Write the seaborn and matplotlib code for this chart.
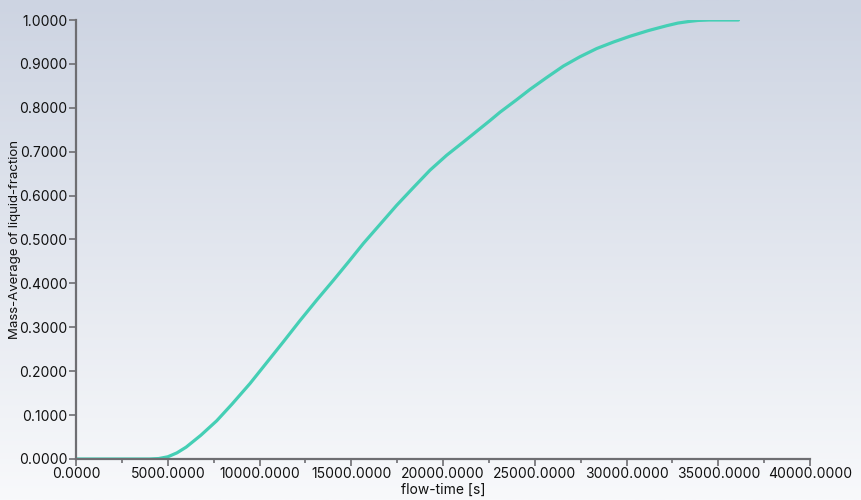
import numpy as np
import pandas as pd
import matplotlib
matplotlib.use("Agg")
import matplotlib.pyplot as plt
import seaborn as sns
from matplotlib.ticker import MultipleLocator, FormatStrFormatter

# values
flow_time = [0, 2000, 4000, 4500, 5000, 5500, 6000, 6800, 7665, 8500, 9482, 10400,
             11299, 12200, 13116, 14024, 14850, 15659, 16600, 17476, 18400, 19292,
             20200, 21107, 22561, 23106, 24000, 24741, 25650, 26556, 27450, 28375,
             29300, 30191, 31200, 32190, 32800, 33460, 33900, 34500, 36100]
liquid_frac = [0.0, 0.0, 0.0, 0.001, 0.005, 0.014, 0.027, 0.054, 0.087, 0.125, 0.172, 0.22,
               0.267, 0.315, 0.362, 0.407, 0.449, 0.491, 0.536, 0.578, 0.619, 0.658,
               0.692, 0.722, 0.771, 0.790, 0.818, 0.842, 0.869, 0.895, 0.916, 0.935,
               0.950, 0.963, 0.976, 0.987, 0.993, 0.997, 0.999, 1.0, 1.0]

df = pd.DataFrame({"flow-time [s]": flow_time,
                   "Mass-Average of liquid-fraction": liquid_frac})

sns.set_style("ticks")
plt.rcParams['font.family'] = ['Inter', 'DejaVu Sans']

fig = plt.figure(figsize=(8.61, 5.0), dpi=100)

# gradient background like the solver window
bg = fig.add_axes([0, 0, 1, 1], zorder=-10)
top = np.array([205, 212, 226]) / 255
bot = np.array([248, 249, 251]) / 255
t = np.linspace(0, 1, 256)[:, None]
grad = top * (1 - t) + bot * t
bg.imshow(grad[:, None, :], aspect="auto", extent=[0, 1, 0, 1])
bg.axis("off")

ax = fig.add_axes([0.0883, 0.082, 0.8525, 0.878])
ax.patch.set_alpha(0)
sns.lineplot(data=df, x="flow-time [s]", y="Mass-Average of liquid-fraction",
             ax=ax, color="#45cfb5", linewidth=2.3)

ax.set_xlim(0, 40000)
ax.set_ylim(0, 1)
ax.xaxis.set_major_locator(MultipleLocator(5000))
ax.xaxis.set_minor_locator(MultipleLocator(2500))
ax.yaxis.set_major_locator(MultipleLocator(0.1))
ax.xaxis.set_major_formatter(FormatStrFormatter("%.4f"))
ax.yaxis.set_major_formatter(FormatStrFormatter("%.4f"))

sns.despine(ax=ax)
for s in ["left", "bottom"]:
    ax.spines[s].set_color("#6e6e72")
    ax.spines[s].set_linewidth(1.6)
ax.tick_params(which="major", length=5, width=1.2, color="#6e6e72",
               labelsize=10, labelcolor="#111111", pad=1)
ax.tick_params(which="minor", length=3, width=1.2, color="#6e6e72")

ax.set_xlabel("flow-time [s]", fontsize=10, color="#111111")
ax.set_ylabel("Mass-Average of liquid-fraction", fontsize=9.5, color="#111111")
ax.xaxis.set_label_coords(0.5, -0.055)
ax.yaxis.set_label_coords(-0.075, 0.5)

fig.savefig("out.png", dpi=100)
